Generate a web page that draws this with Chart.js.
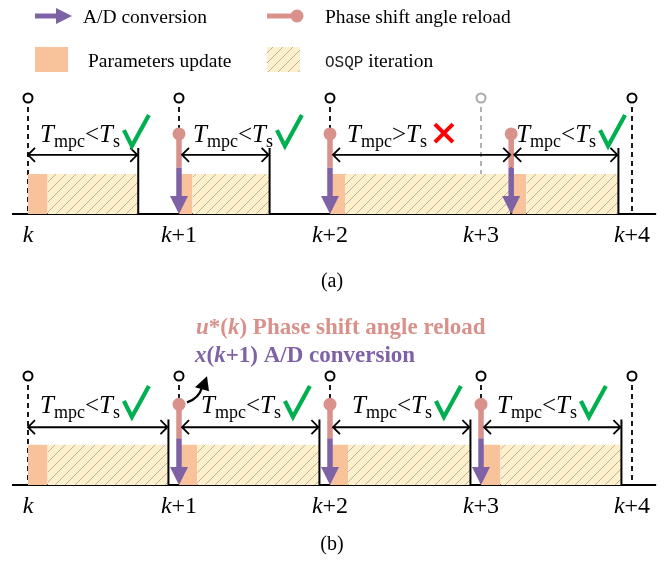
<!DOCTYPE html>
<html>
<head>
<meta charset="utf-8">
<script src="https://cdn.jsdelivr.net/npm/chart.js@4.4.0/dist/chart.umd.min.js"></script>
<style>
  html, body { margin: 0; padding: 0; background: #fff; }
  #wrap { position: relative; width: 668px; height: 567px; }
  canvas { position: absolute; left: 0; }
  #chartA { top: 0; }
  #chartB { top: 300px; }
</style>
</head>
<body>
<div id="wrap">
  <canvas id="chartA" width="668" height="300"></canvas>
  <canvas id="chartB" width="668" height="267"></canvas>
</div>
<script>
// sampling instants (in units of Ts) and their labels
const sampleTimes = [0, 1, 2, 3, 4];
const sampleLabels = ["k", "k+1", "k+2", "k+3", "k+4"];

// (a) third MPC period overruns Ts -> sample k+3 is missed
const startA = [0, 1, 2, 3.2];
const updateA = [0.13, 0.09, 0.1, 0.1];
const osqpA = [0.6, 0.51, 1.1, 0.61];
const missedA = [3];

// (b) every MPC period fits inside Ts
const startB = [0, 1, 2, 3];
const updateB = [0.13, 0.12, 0.12, 0.13];
const osqpB = [0.8, 0.81, 0.81, 0.8];
const missedB = [];

// colours
const PURPLE = "#7f62a6";
const PINK = "#d8918b";
const ORANGE = "#f8c39b";
const HATCH_BG = "#fdf0cb";
const HATCH_LINE = "#b9b2a2";
const GREEN = "#00b050";
const SERIF = "'Liberation Serif', 'Times New Roman', serif";

// x range so that one Ts is 151px and k sits 28px from the left
const X_MIN = -28 / 151;
const X_MAX = X_MIN + 668 / 151;

function hatchPattern(ctx) {
  const c = document.createElement("canvas");
  c.width = 10;
  c.height = 10;
  const g = c.getContext("2d");
  g.fillStyle = HATCH_BG;
  g.fillRect(0, 0, 10, 10);
  g.strokeStyle = HATCH_LINE;
  g.lineWidth = 1;
  g.beginPath();
  g.moveTo(0, 10); g.lineTo(10, 0);
  g.moveTo(-1, 1); g.lineTo(1, -1);
  g.moveTo(9, 11); g.lineTo(11, 9);
  g.stroke();
  return ctx.createPattern(c, "repeat");
}

// draw a row of text pieces with different fonts, returns end x
function drawParts(ctx, parts, x, y, align) {
  let w = 0;
  parts.forEach(p => { ctx.font = p.font; w += ctx.measureText(p.text).width; });
  if (align === "center") x -= w / 2;
  ctx.textAlign = "left";
  parts.forEach(p => {
    ctx.font = p.font;
    ctx.fillStyle = p.color || "#000";
    ctx.fillText(p.text, x, y + (p.dy || 0));
    x += ctx.measureText(p.text).width;
  });
  return x;
}

function tickParts(label) {
  return [
    { text: label.charAt(0), font: "italic 24px " + SERIF },
    { text: label.slice(1), font: "24px " + SERIF }
  ];
}

function tmpcParts(sign) {
  return [
    { text: "T", font: "italic 25px " + SERIF },
    { text: "mpc", font: "18px " + SERIF, dy: 5 },
    { text: sign, font: "25px " + SERIF },
    { text: "T", font: "italic 25px " + SERIF },
    { text: "s", font: "18px " + SERIF, dy: 5 }
  ];
}

function drawCheck(ctx, x, yb) {
  ctx.strokeStyle = GREEN;
  ctx.lineWidth = 4.2;
  ctx.lineJoin = "miter";
  ctx.lineCap = "butt";
  ctx.beginPath();
  ctx.moveTo(x, yb - 16);
  ctx.lineTo(x + 8, yb);
  ctx.lineTo(x + 25, yb - 31);
  ctx.stroke();
}

function drawCross(ctx, cx, cy) {
  ctx.strokeStyle = "#ff0000";
  ctx.lineWidth = 4;
  ctx.lineCap = "butt";
  ctx.beginPath();
  ctx.moveTo(cx - 9, cy - 9); ctx.lineTo(cx + 9, cy + 9);
  ctx.moveTo(cx + 9, cy - 9); ctx.lineTo(cx - 9, cy + 9);
  ctx.stroke();
}

function drawLegend(ctx) {
  // A/D conversion
  ctx.strokeStyle = PURPLE;
  ctx.lineWidth = 5;
  ctx.beginPath(); ctx.moveTo(35, 16); ctx.lineTo(60, 16); ctx.stroke();
  ctx.fillStyle = PURPLE;
  ctx.beginPath(); ctx.moveTo(72, 16); ctx.lineTo(56, 8); ctx.lineTo(56, 24); ctx.closePath(); ctx.fill();
  ctx.textBaseline = "alphabetic";
  drawParts(ctx, [{ text: "A/D conversion", font: "19.5px " + SERIF }], 83, 23);
  // phase shift angle reload
  ctx.strokeStyle = PINK;
  ctx.beginPath(); ctx.moveTo(267, 16); ctx.lineTo(296, 16); ctx.stroke();
  ctx.fillStyle = PINK;
  ctx.beginPath(); ctx.arc(297, 16, 6.5, 0, Math.PI * 2); ctx.fill();
  drawParts(ctx, [{ text: "Phase shift angle reload", font: "19.5px " + SERIF }], 325, 23);
  // parameters update
  ctx.fillStyle = ORANGE;
  ctx.fillRect(35, 47, 33, 25);
  drawParts(ctx, [{ text: "Parameters update", font: "19.5px " + SERIF }], 88, 67);
  // OSQP iteration
  ctx.fillStyle = hatchPattern(ctx);
  ctx.fillRect(267, 47, 33, 25);
  drawParts(ctx, [
    { text: "OSQP", font: "16px 'Liberation Mono', 'DejaVu Sans Mono', monospace", color: "#222" },
    { text: " iteration", font: "19.5px " + SERIF }
  ], 325, 67);
}

function drawNote(ctx, X, Y, geo) {
  const b = "bold 23px " + SERIF, bi = "bold italic 23px " + SERIF;
  ctx.textBaseline = "alphabetic";
  drawParts(ctx, [
    { text: "u", font: bi, color: PINK },
    { text: "*(", font: b, color: PINK },
    { text: "k", font: bi, color: PINK },
    { text: ") Phase shift angle reload", font: b, color: PINK }
  ], 196, 34);
  drawParts(ctx, [
    { text: "x", font: bi, color: PURPLE },
    { text: "(", font: b, color: PURPLE },
    { text: "k", font: bi, color: PURPLE },
    { text: "+1) A/D conversion", font: b, color: PURPLE }
  ], 195, 62);
  // curved pointer from the reload dot at k+1
  const x0 = X(1), y0 = Y(geo.dot);
  ctx.strokeStyle = "#000";
  ctx.lineWidth = 2.2;
  ctx.beginPath();
  ctx.moveTo(x0 + 8, y0 - 2);
  ctx.quadraticCurveTo(x0 + 20, y0 - 6, x0 + 23, y0 - 17);
  ctx.stroke();
  ctx.fillStyle = "#000";
  ctx.beginPath();
  ctx.moveTo(x0 + 28, y0 - 28);
  ctx.lineTo(x0 + 16, y0 - 17);
  ctx.lineTo(x0 + 30, y0 - 13);
  ctx.closePath();
  ctx.fill();
}

function makePanel(id, starts, updates, osqps, missed, geo) {
  const canvas = document.getElementById(id);
  const ctx = canvas.getContext("2d");
  const pattern = hatchPattern(ctx);
  const ends = starts.map((s, i) => s + updates[i] + osqps[i]);
  const reloads = starts.slice(1);
  const datasets = [];
  const base = { pointRadius: 0, borderWidth: 2, borderColor: "#000", fill: false };

  // time axis
  datasets.push(Object.assign({}, base, {
    data: [{ x: sampleTimes[0] - 0.106, y: 0 }, { x: sampleTimes[sampleTimes.length - 1] + 0.16, y: 0 }],
    order: 10
  }));

  // dashed lines from the sampling circles
  const dashed = [], grey = [];
  sampleTimes.forEach(t => {
    if (missed.includes(t)) {
      grey.push({ x: t, y: 1 }, { x: t, y: geo.box }, { x: t, y: null });
      return;
    }
    const low = reloads.includes(t) ? geo.dot : 0;
    dashed.push({ x: t, y: 1 }, { x: t, y: low }, { x: t, y: null });
  });
  datasets.push(Object.assign({}, base, { data: dashed, borderDash: [5, 4], borderWidth: 1.8, order: 9 }));
  datasets.push(Object.assign({}, base, { data: grey, borderDash: [5, 4], borderWidth: 1.8, borderColor: "#aaaaaa", order: 9 }));

  // parameter update / OSQP boxes
  starts.forEach((s, i) => {
    const m = s + updates[i], e = ends[i];
    datasets.push(Object.assign({}, base, {
      data: [{ x: s, y: 0 }, { x: s, y: geo.box }, { x: m, y: geo.box }, { x: m, y: 0 }],
      borderWidth: 0, fill: "origin", backgroundColor: ORANGE, order: 5
    }));
    datasets.push(Object.assign({}, base, {
      data: [{ x: m, y: 0 }, { x: m, y: geo.box }, { x: e, y: geo.box }, { x: e, y: 0 }],
      borderWidth: 0, fill: "origin", backgroundColor: pattern, order: 5
    }));
  });

  // end of each MPC computation
  const endLines = [];
  ends.forEach(e => endLines.push({ x: e, y: 0 }, { x: e, y: geo.endTop }, { x: e, y: null }));
  datasets.push(Object.assign({}, base, { data: endLines, order: 4 }));

  // phase shift reload (pink) and A/D conversion (purple) stems
  const pink = [], purple = [];
  reloads.forEach(s => {
    pink.push({ x: s, y: geo.dot }, { x: s, y: geo.split }, { x: s, y: null });
    purple.push({ x: s, y: geo.split }, { x: s, y: 0.1 }, { x: s, y: null });
  });
  datasets.push(Object.assign({}, base, { data: pink, borderColor: PINK, borderWidth: 5.5, borderCapStyle: "butt", order: 3 }));
  datasets.push(Object.assign({}, base, { data: purple, borderColor: PURPLE, borderWidth: 5.5, borderCapStyle: "butt", order: 3 }));
  datasets.push(Object.assign({}, base, {
    data: reloads.map(s => ({ x: s, y: geo.dot })), showLine: false,
    pointRadius: 6.5, pointBackgroundColor: PINK, pointBorderWidth: 0, order: 2
  }));

  // sampling circles
  datasets.push(Object.assign({}, base, {
    data: sampleTimes.map(t => ({ x: t, y: 1 })), showLine: false,
    pointRadius: 4.5, pointBackgroundColor: "#fff", pointBorderWidth: 2,
    pointBorderColor: sampleTimes.map(t => missed.includes(t) ? "#aaaaaa" : "#000"), order: 1
  }));

  const marks = {
    id: "marks_" + id,
    afterDatasetsDraw(chart) {
      const c = chart.ctx, xs = chart.scales.x, ys = chart.scales.y;
      const X = v => xs.getPixelForValue(v), Y = v => ys.getPixelForValue(v);
      c.save();

      // A/D arrow heads
      c.fillStyle = PURPLE;
      reloads.forEach(s => {
        const x = X(s), y = Y(0);
        c.beginPath(); c.moveTo(x, y); c.lineTo(x - 9, y - 18); c.lineTo(x + 9, y - 18); c.closePath(); c.fill();
      });

      // double arrows, Tmpc labels and verdict marks
      starts.forEach((s, i) => {
        const x0 = X(s) + (reloads.includes(s) ? 3 : 0), x1 = X(ends[i]) - 1, y = Y(geo.arrow);
        c.strokeStyle = "#000";
        c.lineWidth = 1.8;
        c.lineJoin = "miter";
        c.beginPath();
        c.moveTo(x0, y); c.lineTo(x1, y);
        c.moveTo(x0 + 7, y - 7); c.lineTo(x0, y); c.lineTo(x0 + 7, y + 7);
        c.moveTo(x1 - 7, y - 7); c.lineTo(x1, y); c.lineTo(x1 - 7, y + 7);
        c.stroke();

        const ok = ends[i] - s < 1;
        const ty = Y(geo.text);
        c.textBaseline = "alphabetic";
        const xe = drawParts(c, tmpcParts(ok ? "<" : ">"), X(s) + geo.labelShift[i], ty);
        if (ok) drawCheck(c, xe + 4, ty + 4);
        else drawCross(c, xe + 17, ty - 9);
      });

      // sample labels under the axis
      c.textBaseline = "middle";
      sampleTimes.forEach((t, i) => drawParts(c, tickParts(sampleLabels[i]), X(t), Y(0) + 22, "center"));

      // caption
      c.textBaseline = "middle";
      drawParts(c, [{ text: geo.caption, font: "20px " + SERIF }], X(2) + 2, geo.captionY, "center");

      if (geo.legend) drawLegend(c);
      if (geo.note) drawNote(c, X, Y, geo);
      c.restore();
    }
  };

  return new Chart(canvas, {
    type: "line",
    data: { datasets: datasets },
    options: {
      responsive: false,
      animation: false,
      events: [],
      layout: { autoPadding: false, padding: { left: 0, right: 0, top: geo.padTop, bottom: geo.padBottom } },
      scales: {
        x: { type: "linear", min: X_MIN, max: X_MAX, display: false },
        y: { type: "linear", min: -0.2, max: 1.1, display: false }
      },
      plugins: { legend: { display: false }, tooltip: { enabled: false } },
      elements: { line: { tension: 0 } }
    },
    plugins: [marks]
  });
}

makePanel("chartA", startA, updateA, osqpA, missedA, {
  dot: 0.69, split: 0.40, box: 0.345, endTop: 0.57, arrow: 0.51, text: 0.62,
  labelShift: [12, 14, 17, 5], padTop: 86.4, padBottom: 62.8,
  caption: "(a)", captionY: 282, legend: true
});

makePanel("chartB", startB, updateB, osqpB, missedB, {
  dot: 0.74, split: 0.43, box: 0.37, endTop: 0.6, arrow: 0.53, text: 0.66,
  labelShift: [12, 22, 22, 16], padTop: 65.1, padBottom: 60.2,
  caption: "(b)", captionY: 245, note: true
});
</script>
</body>
</html>
